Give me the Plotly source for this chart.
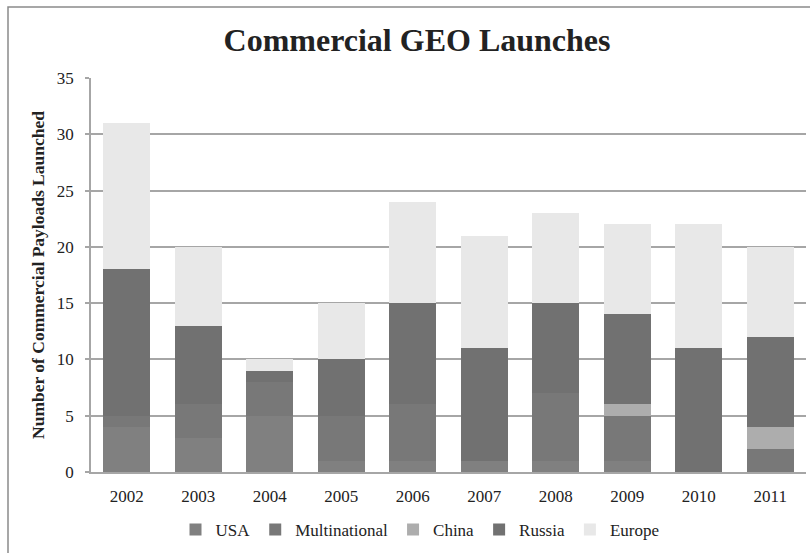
import plotly.graph_objects as go

years = ["2002", "2003", "2004", "2005", "2006", "2007", "2008", "2009", "2010", "2011"]
usa = [4, 3, 5, 1, 1, 1, 1, 1, 0, 0]
multinational = [1, 3, 3, 4, 5, 0, 6, 4, 0, 2]
china = [0, 0, 0, 0, 0, 0, 0, 1, 0, 2]
russia = [13, 7, 1, 5, 9, 10, 8, 8, 11, 8]
europe = [13, 7, 1, 5, 9, 10, 8, 8, 11, 8]

series = [
    ("USA", usa, "#808080"),
    ("Multinational", multinational, "#787878"),
    ("China", china, "#adadad"),
    ("Russia", russia, "#717171"),
    ("Europe", europe, "#e8e8e8"),
]

FONT = "Liberation Serif"
GRID = "#a6a6a6"

fig = go.Figure()
for name, vals, color in series:
    fig.add_trace(go.Bar(
        name=name, x=years, y=vals,
        marker=dict(color=color, line=dict(width=0)),
    ))

# page geometry (px)
W, H = 810, 553
L, R, T, B = 91, 4, 78, 81
pw, ph = W - L - R, H - T - B

fig.update_layout(
    width=W, height=H,
    barmode="stack", bargap=0.34,
    margin=dict(l=L, r=R, t=T, b=B),
    paper_bgcolor="white", plot_bgcolor="white",
    font=dict(family=FONT, size=17, color="#222"),
    title=dict(
        text="<b>Commercial GEO Launches</b>",
        x=417 / W, xanchor="center",
        y=1 - 40 / H, yanchor="middle",
        font=dict(family=FONT, size=32, color="#222"),
    ),
    xaxis=dict(
        showline=True, linecolor=GRID, linewidth=1.5,
        ticks="", showgrid=False,
        tickfont=dict(family=FONT, size=17),
        ticklabelstandoff=8,
    ),
    yaxis=dict(
        range=[0, 35], dtick=5,
        showgrid=True, gridcolor=GRID, gridwidth=1.5,
        showline=True, linecolor=GRID, linewidth=1.5,
        ticks="outside", ticklen=4, tickcolor=GRID, tickwidth=1.5,
        tickfont=dict(family=FONT, size=17),
        ticklabelstandoff=8,
        title=dict(text="<b>Number of Commercial Payloads Launched</b>",
                   font=dict(family=FONT, size=17.5), standoff=8),
        zeroline=False,
    ),
    legend=dict(
        orientation="h", x=(420 - L) / pw, xanchor="center",
        y=(472 - 530) / ph, yanchor="middle",
        font=dict(family=FONT, size=17),
        traceorder="normal",
        itemwidth=30,
    ),
    shapes=[dict(
        type="rect", xref="paper", yref="paper",
        x0=(8 - L) / pw, x1=(W + 20 - L) / pw,
        y0=(472 - (H + 20)) / ph, y1=(472 - 7) / ph,
        line=dict(color="#8a8a8a", width=1.5),
        fillcolor="rgba(0,0,0,0)", layer="below",
    )],
)

fig.write_html("out.html")
